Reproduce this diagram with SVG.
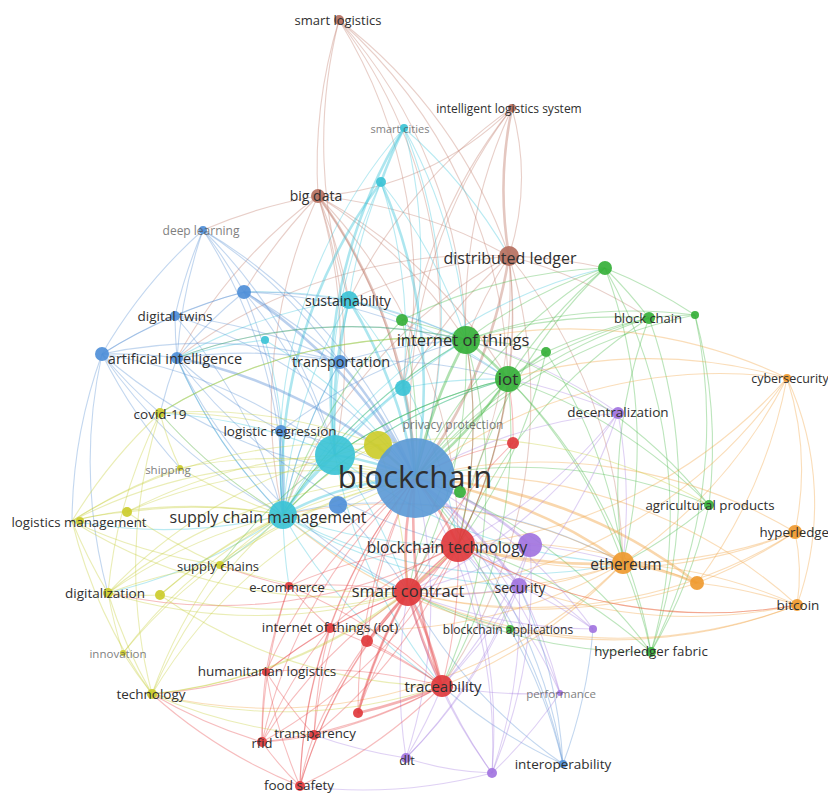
<svg xmlns="http://www.w3.org/2000/svg" width="828" height="793" viewBox="0 0 828 793">
<style>
.e path{fill:none;stroke-width:1.1;stroke-opacity:.36}
.e .w{stroke-width:2.6;stroke-opacity:.42}
.r{stroke:#e5474b}.g{stroke:#46b846}.b{stroke:#5a90d4}.c{stroke:#3cc4da}.y{stroke:#c6cc34}.p{stroke:#a57fe0}.o{stroke:#f0a03c}.n{stroke:#bf7a68}
.nd circle{fill-opacity:.92}
.fr{fill:#e0393d}.fg{fill:#36b03a}.fb{fill:#4f8fd8}.fbc{fill:#5c9ad6}.fc{fill:#3cc3d6}.fy{fill:#cccc2c}.fp{fill:#a274df}.fo{fill:#ef9a30}.fn{fill:#b57060}
text{font-family:"Open Sans","Noto Sans","Liberation Sans",sans-serif;fill:#2f2f2f;text-anchor:middle;dominant-baseline:central}
.f{fill:#555;opacity:.75}
</style>
<rect width="828" height="793" fill="#fff"/>
<g class="e" id="connectors">
<!-- brown -->
<path class="n" d="M339 20A500 500 0 0 0 318 196"/>
<path class="n" d="M339 20A500 500 0 0 1 415 478"/>
<path class="n" d="M339 20A500 500 0 0 1 509 256"/>
<path class="n" d="M339 20A500 500 0 0 1 466 340"/>
<path class="n" d="M339 20A500 500 0 0 0 349 300"/>
<path class="n" d="M339 20A500 500 0 0 1 403 388"/>
<path class="n" d="M339 20A500 500 0 0 1 508 379"/>
<path class="n" d="M512 108A260 260 0 0 1 509 256"/>
<path class="n w" d="M512 108A400 400 0 0 0 509 256"/>
<path class="n" d="M512 108A500 500 0 0 0 415 478"/>
<path class="n" d="M512 108A300 300 0 0 1 318 196"/>
<path class="n" d="M512 108A500 500 0 0 0 349 300"/>
<path class="n" d="M512 108A500 500 0 0 0 403 388"/>
<path class="n" d="M512 108A500 500 0 0 0 466 340"/>
<path class="n" d="M318 196A500 500 0 0 0 203 230"/>
<path class="n w" d="M318 196A500 500 0 0 1 415 478"/>
<path class="n" d="M318 196A500 500 0 0 1 349 300"/>
<path class="n" d="M318 196A500 500 0 0 1 340 362"/>
<path class="n" d="M318 196A500 500 0 0 0 177 358"/>
<path class="n" d="M318 196A500 500 0 0 1 466 340"/>
<path class="n" d="M318 196A500 500 0 0 0 283 515"/>
<path class="n" d="M318 196A500 500 0 0 1 335 455"/>
<path class="n" d="M318 196A500 500 0 0 1 509 256"/>
<path class="n" d="M318 196A500 500 0 0 1 508 379"/>
<path class="n" d="M318 196A500 500 0 0 1 403 388"/>
<path class="n" d="M318 196A500 500 0 0 0 244 292"/>
<path class="n" d="M318 196A500 500 0 0 1 458 545"/>
<path class="n w" d="M509 256A500 500 0 0 1 415 478"/>
<path class="n" d="M509 256A500 500 0 0 1 508 379"/>
<path class="n" d="M509 256A500 500 0 0 0 466 340"/>
<path class="n" d="M509 256A500 500 0 0 1 408 592"/>
<path class="n" d="M509 256A500 500 0 0 1 458 545"/>
<path class="n" d="M509 256A500 500 0 0 1 623 563"/>
<path class="n" d="M509 256A500 500 0 0 1 605 268"/>
<path class="n" d="M509 256A500 500 0 0 0 349 300"/>
<path class="n" d="M509 256A500 500 0 0 0 283 515"/>
<path class="n" d="M509 256A500 500 0 0 1 442 686"/>
<path class="n" d="M509 256A500 500 0 0 0 403 388"/>
<path class="n" d="M509 256A500 500 0 0 1 649 318"/>
<path class="n" d="M509 256A500 500 0 0 0 177 358"/>
<!-- cyan -->
<path class="c w" d="M404 128A500 500 0 0 0 381 182"/>
<path class="c" d="M404 128A500 500 0 0 1 415 478"/>
<path class="c w" d="M404 128A500 500 0 0 0 335 455"/>
<path class="c" d="M404 128A500 500 0 0 0 283 515"/>
<path class="c" d="M404 128A500 500 0 0 1 466 340"/>
<path class="c" d="M404 128A500 500 0 0 1 509 256"/>
<path class="c" d="M404 128A500 500 0 0 1 403 388"/>
<path class="c w" d="M381 182A500 500 0 0 1 415 478"/>
<path class="c w" d="M381 182A500 500 0 0 0 283 515"/>
<path class="c" d="M381 182A500 500 0 0 0 335 455"/>
<path class="c" d="M381 182A500 500 0 0 0 349 300"/>
<path class="c" d="M381 182A500 500 0 0 1 466 340"/>
<path class="c" d="M381 182A500 500 0 0 1 403 388"/>
<path class="c w" d="M349 300A500 500 0 0 1 415 478"/>
<path class="c" d="M349 300A500 500 0 0 0 283 515"/>
<path class="c w" d="M349 300A500 500 0 0 0 335 455"/>
<path class="c" d="M349 300A500 500 0 0 1 466 340"/>
<path class="c" d="M349 300A500 500 0 0 0 340 362"/>
<path class="c" d="M349 300A500 500 0 0 0 177 358"/>
<path class="c" d="M349 300A500 500 0 0 0 244 292"/>
<path class="c" d="M349 300A500 500 0 0 1 508 379"/>
<path class="c" d="M349 300A500 500 0 0 1 458 545"/>
<path class="c w" d="M403 388A500 500 0 0 1 415 478"/>
<path class="c" d="M403 388A500 500 0 0 0 283 515"/>
<path class="c" d="M403 388A500 500 0 0 1 508 379"/>
<path class="c" d="M403 388A500 500 0 0 0 335 455"/>
<path class="c" d="M265 340A500 500 0 0 1 283 515"/>
<path class="c" d="M265 340A500 500 0 0 0 177 358"/>
<path class="c" d="M265 340A500 500 0 0 1 415 478"/>
<path class="c w" d="M335 455A300 300 0 0 1 415 478"/>
<path class="c w" d="M335 455A300 300 0 0 0 283 515"/>
<path class="c" d="M335 455A500 500 0 0 1 466 340"/>
<path class="c" d="M335 455A500 500 0 0 1 340 362"/>
<path class="c" d="M335 455A500 500 0 0 1 408 592"/>
<path class="c" d="M335 455A500 500 0 0 1 508 379"/>
<path class="c" d="M335 455A500 500 0 0 0 442 686"/>
<path class="c" d="M335 455A500 500 0 0 0 623 563"/>
<path class="c" d="M335 455A500 500 0 0 0 160 413"/>
<path class="c w" d="M283 515A300 300 0 0 1 415 478"/>
<path class="c" d="M283 515A500 500 0 0 1 281 431"/>
<path class="c" d="M283 515A500 500 0 0 1 177 358"/>
<path class="c" d="M283 515A500 500 0 0 1 340 362"/>
<path class="c" d="M283 515A500 500 0 0 0 458 545"/>
<path class="c" d="M283 515A500 500 0 0 0 408 592"/>
<path class="c" d="M283 515A500 500 0 0 1 466 340"/>
<path class="c" d="M283 515A500 500 0 0 1 160 413"/>
<path class="c" d="M283 515A500 500 0 0 1 108 593"/>
<path class="c" d="M283 515A500 500 0 0 1 220 565"/>
<path class="c" d="M283 515A500 500 0 0 0 289 586"/>
<path class="c" d="M283 515A500 500 0 0 1 508 379"/>
<path class="c" d="M283 515A500 500 0 0 0 442 686"/>
<path class="c" d="M283 515A500 500 0 0 1 72 521"/>
<path class="c" d="M283 515A500 500 0 0 0 623 563"/>
<path class="c" d="M283 515A500 500 0 0 0 519 586"/>
<path class="c" d="M283 515A500 500 0 0 1 605 268"/>
<!-- blue -->
<path class="b" d="M203 230A500 500 0 0 1 244 292"/>
<path class="b" d="M203 230A500 500 0 0 0 177 358"/>
<path class="b" d="M203 230A500 500 0 0 0 175 316"/>
<path class="b" d="M203 230A500 500 0 0 1 415 478"/>
<path class="b" d="M203 230A500 500 0 0 0 102 354"/>
<path class="b" d="M203 230A500 500 0 0 1 283 515"/>
<path class="b" d="M203 230A500 500 0 0 1 335 455"/>
<path class="b" d="M203 230A500 500 0 0 1 340 362"/>
<path class="b w" d="M244 292A500 500 0 0 1 415 478"/>
<path class="b" d="M244 292A500 500 0 0 0 175 316"/>
<path class="b" d="M244 292A500 500 0 0 0 177 358"/>
<path class="b" d="M244 292A500 500 0 0 0 102 354"/>
<path class="b" d="M244 292A500 500 0 0 1 340 362"/>
<path class="b" d="M244 292A500 500 0 0 1 335 455"/>
<path class="b" d="M244 292A500 500 0 0 1 466 340"/>
<path class="b" d="M244 292A500 500 0 0 1 283 515"/>
<path class="b" d="M244 292A500 500 0 0 1 508 379"/>
<path class="b" d="M175 316A500 500 0 0 1 415 478"/>
<path class="b" d="M175 316A500 500 0 0 0 177 358"/>
<path class="b" d="M175 316A500 500 0 0 0 102 354"/>
<path class="b" d="M175 316A500 500 0 0 1 283 515"/>
<path class="b" d="M175 316A500 500 0 0 1 340 362"/>
<path class="b w" d="M177 358A500 500 0 0 1 415 478"/>
<path class="b" d="M177 358A500 500 0 0 0 102 354"/>
<path class="b" d="M177 358A500 500 0 0 0 283 515"/>
<path class="b" d="M177 358A500 500 0 0 0 160 413"/>
<path class="b" d="M177 358A500 500 0 0 0 281 431"/>
<path class="b" d="M177 358A500 500 0 0 1 340 362"/>
<path class="b" d="M177 358A500 500 0 0 1 466 340"/>
<path class="b" d="M177 358A500 500 0 0 0 408 592"/>
<path class="b" d="M177 358A500 500 0 0 0 458 545"/>
<path class="b" d="M102 354A500 500 0 0 0 415 478"/>
<path class="b" d="M102 354A500 500 0 0 0 72 521"/>
<path class="b" d="M102 354A500 500 0 0 0 283 515"/>
<path class="b" d="M102 354A500 500 0 0 0 160 413"/>
<path class="b" d="M102 354A500 500 0 0 1 340 362"/>
<path class="b" d="M102 354A500 500 0 0 0 180 468"/>
<path class="b" d="M102 354A500 500 0 0 1 335 455"/>
<path class="b" d="M102 354A500 500 0 0 0 108 593"/>
<path class="b w" d="M340 362A500 500 0 0 1 415 478"/>
<path class="b" d="M340 362A500 500 0 0 1 466 340"/>
<path class="b" d="M340 362A500 500 0 0 0 283 515"/>
<path class="b" d="M340 362A500 500 0 0 1 508 379"/>
<path class="b" d="M281 431A500 500 0 0 1 415 478"/>
<path class="b" d="M281 431A500 500 0 0 0 283 515"/>
<path class="b" d="M281 431A500 500 0 0 1 466 340"/>
<path class="b" d="M415 478A500 500 0 0 1 563 764"/>
<path class="b" d="M563 764A500 500 0 0 0 519 586"/>
<path class="b" d="M563 764A500 500 0 0 0 458 545"/>
<path class="b" d="M563 764A500 500 0 0 1 408 592"/>
<path class="b" d="M563 764A500 500 0 0 0 510 629"/>
<path class="b" d="M563 764A500 500 0 0 0 593 629"/>
<path class="b" d="M563 764A500 500 0 0 1 442 686"/>
<path class="b" d="M338 505A300 300 0 0 1 415 478"/>
<path class="b" d="M338 505A300 300 0 0 0 283 515"/>
<path class="b" d="M338 505A500 500 0 0 1 408 592"/>
<path class="b" d="M338 505A500 500 0 0 1 623 563"/>
<!-- green -->
<path class="g w" d="M466 340A500 500 0 0 0 415 478"/>
<path class="g w" d="M466 340A300 300 0 0 1 508 379"/>
<path class="g" d="M466 340A500 500 0 0 1 605 268"/>
<path class="g" d="M466 340A500 500 0 0 1 649 318"/>
<path class="g" d="M466 340A500 500 0 0 1 408 592"/>
<path class="g" d="M466 340A500 500 0 0 1 458 545"/>
<path class="g" d="M466 340A300 300 0 0 0 402 320"/>
<path class="g" d="M466 340A300 300 0 0 1 546 352"/>
<path class="g" d="M466 340A500 500 0 0 1 695 315"/>
<path class="g" d="M466 340A500 500 0 0 1 442 686"/>
<path class="g" d="M466 340A500 500 0 0 0 283 515"/>
<path class="g" d="M466 340A500 500 0 0 0 160 413"/>
<path class="g" d="M466 340A500 500 0 0 0 177 358"/>
<path class="g w" d="M508 379A500 500 0 0 1 415 478"/>
<path class="g" d="M508 379A500 500 0 0 1 605 268"/>
<path class="g" d="M508 379A500 500 0 0 1 649 318"/>
<path class="g" d="M508 379A500 500 0 0 0 408 592"/>
<path class="g" d="M508 379A500 500 0 0 1 458 545"/>
<path class="g" d="M508 379A300 300 0 0 0 546 352"/>
<path class="g" d="M508 379A500 500 0 0 0 283 515"/>
<path class="g" d="M508 379A500 500 0 0 1 709 505"/>
<path class="g" d="M508 379A500 500 0 0 1 442 686"/>
<path class="g" d="M508 379A500 500 0 0 1 623 563"/>
<path class="g" d="M508 379A500 500 0 0 0 335 455"/>
<path class="g" d="M508 379A500 500 0 0 1 651 652"/>
<path class="g" d="M508 379A500 500 0 0 0 220 565"/>
<path class="g" d="M605 268A500 500 0 0 1 649 318"/>
<path class="g" d="M605 268A500 500 0 0 1 695 315"/>
<path class="g" d="M605 268A500 500 0 0 0 415 478"/>
<path class="g" d="M605 268A500 500 0 0 1 623 563"/>
<path class="g" d="M605 268A500 500 0 0 0 458 545"/>
<path class="g" d="M605 268A500 500 0 0 0 402 320"/>
<path class="g" d="M649 318A300 300 0 0 1 695 315"/>
<path class="g" d="M649 318A500 500 0 0 0 415 478"/>
<path class="g" d="M649 318A500 500 0 0 1 651 652"/>
<path class="g" d="M649 318A500 500 0 0 0 623 563"/>
<path class="g" d="M649 318A500 500 0 0 0 458 545"/>
<path class="g" d="M649 318A500 500 0 0 0 546 352"/>
<path class="g" d="M695 315A500 500 0 0 1 709 505"/>
<path class="g" d="M695 315A500 500 0 0 0 415 478"/>
<path class="g" d="M695 315A500 500 0 0 1 651 652"/>
<path class="g" d="M709 505A500 500 0 0 0 415 478"/>
<path class="g" d="M709 505A500 500 0 0 1 623 563"/>
<path class="g" d="M709 505A500 500 0 0 1 651 652"/>
<path class="g" d="M709 505A500 500 0 0 0 466 340"/>
<path class="g" d="M651 652A500 500 0 0 0 623 563"/>
<path class="g" d="M651 652A500 500 0 0 0 415 478"/>
<path class="g" d="M651 652A500 500 0 0 0 458 545"/>
<path class="g" d="M651 652A500 500 0 0 1 408 592"/>
<path class="g" d="M651 652A500 500 0 0 0 605 268"/>
<path class="g" d="M510 629A500 500 0 0 0 415 478"/>
<path class="g" d="M510 629A500 500 0 0 1 408 592"/>
<path class="g" d="M402 320A500 500 0 0 1 415 478"/>
<path class="g" d="M402 320A500 500 0 0 0 283 515"/>
<path class="g" d="M460 492A300 300 0 0 0 415 478"/>
<path class="g" d="M546 352A500 500 0 0 0 415 478"/>
<path class="g" d="M546 352A500 500 0 0 1 623 563"/>
<path class="g" d="M546 352A500 500 0 0 1 458 545"/>
<!-- orange -->
<path class="o" d="M787 378A500 500 0 0 0 415 478"/>
<path class="o" d="M787 378A500 500 0 0 1 623 563"/>
<path class="o" d="M787 378A500 500 0 0 1 697 583"/>
<path class="o" d="M787 378A500 500 0 0 0 466 340"/>
<path class="o" d="M787 378A500 500 0 0 0 508 379"/>
<path class="o" d="M787 378A300 300 0 0 1 797 605"/>
<path class="o" d="M787 378A300 300 0 0 1 795 532"/>
<path class="o" d="M787 378A500 500 0 0 1 458 545"/>
<path class="o" d="M787 378A500 500 0 0 1 408 592"/>
<path class="o w" d="M623 563A500 500 0 0 0 415 478"/>
<path class="o w" d="M623 563A500 500 0 0 1 458 545"/>
<path class="o" d="M623 563A500 500 0 0 1 408 592"/>
<path class="o" d="M623 563A500 500 0 0 0 795 532"/>
<path class="o" d="M623 563A500 500 0 0 1 797 605"/>
<path class="o w" d="M623 563A300 300 0 0 1 697 583"/>
<path class="o" d="M623 563A500 500 0 0 1 442 686"/>
<path class="o" d="M623 563A500 500 0 0 0 283 515"/>
<path class="o" d="M623 563A500 500 0 0 1 519 586"/>
<path class="o" d="M623 563A500 500 0 0 1 330 628"/>
<path class="o" d="M623 563A500 500 0 0 1 152 694"/>
<path class="o w" d="M697 583A500 500 0 0 0 415 478"/>
<path class="o" d="M697 583A500 500 0 0 0 458 545"/>
<path class="o" d="M697 583A500 500 0 0 0 795 532"/>
<path class="o" d="M697 583A500 500 0 0 1 797 605"/>
<path class="o" d="M697 583A500 500 0 0 1 408 592"/>
<path class="o" d="M795 532A500 500 0 0 0 415 478"/>
<path class="o" d="M795 532A500 500 0 0 1 458 545"/>
<path class="o" d="M795 532A500 500 0 0 1 408 592"/>
<path class="o" d="M795 532A200 200 0 0 1 797 605"/>
<path class="o" d="M797 605A500 500 0 0 0 415 478"/>
<path class="o" d="M797 605A500 500 0 0 1 458 545"/>
<path class="o" d="M797 605A500 500 0 0 1 408 592"/>
<path class="o" d="M797 605A500 500 0 0 1 519 586"/>
<path class="o" d="M797 605A500 500 0 0 1 283 515"/>
<!-- purple -->
<path class="p" d="M618 413A500 500 0 0 0 415 478"/>
<path class="p" d="M618 413A500 500 0 0 0 508 379"/>
<path class="p" d="M618 413A500 500 0 0 1 458 545"/>
<path class="p" d="M618 413A500 500 0 0 1 408 592"/>
<path class="p" d="M618 413A500 500 0 0 1 623 563"/>
<path class="p" d="M618 413A500 500 0 0 0 466 340"/>
<path class="p" d="M618 413A500 500 0 0 1 519 586"/>
<path class="p w" d="M519 586A500 500 0 0 0 415 478"/>
<path class="p" d="M519 586A300 300 0 0 0 458 545"/>
<path class="p" d="M519 586A300 300 0 0 1 408 592"/>
<path class="p" d="M519 586A500 500 0 0 1 406 758"/>
<path class="p" d="M519 586A500 500 0 0 1 492 773"/>
<path class="p" d="M519 586A500 500 0 0 1 442 686"/>
<path class="p" d="M519 586A500 500 0 0 1 560 693"/>
<path class="p w" d="M530 545A300 300 0 0 0 415 478"/>
<path class="p" d="M530 545A500 500 0 0 1 408 592"/>
<path class="p" d="M530 545A500 500 0 0 1 406 758"/>
<path class="p" d="M530 545A500 500 0 0 1 492 773"/>
<path class="p" d="M530 545A500 500 0 0 1 442 686"/>
<path class="p" d="M530 545A500 500 0 0 1 623 563"/>
<path class="p" d="M560 693A500 500 0 0 0 415 478"/>
<path class="p" d="M560 693A500 500 0 0 0 458 545"/>
<path class="p" d="M560 693A500 500 0 0 1 492 773"/>
<path class="p" d="M560 693A500 500 0 0 1 442 686"/>
<path class="p" d="M593 629A500 500 0 0 0 415 478"/>
<path class="p" d="M593 629A500 500 0 0 0 519 586"/>
<path class="p" d="M593 629A500 500 0 0 0 458 545"/>
<path class="p" d="M593 629A500 500 0 0 1 408 592"/>
<path class="p" d="M406 758A500 500 0 0 0 415 478"/>
<path class="p" d="M406 758A500 500 0 0 0 442 686"/>
<path class="p" d="M406 758A500 500 0 0 1 408 592"/>
<path class="p" d="M406 758A300 300 0 0 0 492 773"/>
<path class="p" d="M406 758A500 500 0 0 1 314 735"/>
<path class="p" d="M492 773A500 500 0 0 0 415 478"/>
<path class="p" d="M492 773A500 500 0 0 1 442 686"/>
<path class="p" d="M492 773A500 500 0 0 0 458 545"/>
<path class="p" d="M492 773A500 500 0 0 1 408 592"/>
<path class="p" d="M492 773A500 500 0 0 1 300 786"/>
<!-- red -->
<path class="r w" d="M458 545A300 300 0 0 0 415 478"/>
<path class="r w" d="M458 545A300 300 0 0 1 408 592"/>
<path class="r" d="M458 545A500 500 0 0 1 442 686"/>
<path class="r" d="M458 545A500 500 0 0 0 466 340"/>
<path class="r" d="M458 545A500 500 0 0 0 508 379"/>
<path class="r" d="M458 545A500 500 0 0 1 262 742"/>
<path class="r" d="M458 545A500 500 0 0 1 314 735"/>
<path class="r w" d="M408 592A300 300 0 0 1 415 478"/>
<path class="r w" d="M408 592A500 500 0 0 0 442 686"/>
<path class="r w" d="M408 592A400 400 0 0 1 442 686"/>
<path class="r" d="M408 592A500 500 0 0 0 262 742"/>
<path class="r" d="M408 592A500 500 0 0 0 314 735"/>
<path class="r" d="M408 592A500 500 0 0 0 330 628"/>
<path class="r" d="M408 592A500 500 0 0 0 289 586"/>
<path class="r" d="M408 592A500 500 0 0 0 358 713"/>
<path class="r" d="M408 592A500 500 0 0 0 300 786"/>
<path class="r" d="M408 592A500 500 0 0 0 266 672"/>
<path class="r" d="M408 592A500 500 0 0 1 367 641"/>
<path class="r" d="M408 592A500 500 0 0 1 513 443"/>
<path class="r w" d="M442 686A500 500 0 0 1 415 478"/>
<path class="r" d="M442 686A500 500 0 0 1 314 735"/>
<path class="r" d="M442 686A500 500 0 0 1 262 742"/>
<path class="r" d="M442 686A500 500 0 0 1 300 786"/>
<path class="r w" d="M442 686A500 500 0 0 1 358 713"/>
<path class="r" d="M442 686A500 500 0 0 0 330 628"/>
<path class="r" d="M442 686A500 500 0 0 0 266 672"/>
<path class="r" d="M442 686A500 500 0 0 0 289 586"/>
<path class="r" d="M442 686A500 500 0 0 0 367 641"/>
<path class="r" d="M314 735A500 500 0 0 1 415 478"/>
<path class="r" d="M314 735A300 300 0 0 0 300 786"/>
<path class="r" d="M314 735A300 300 0 0 1 262 742"/>
<path class="r" d="M314 735A500 500 0 0 1 330 628"/>
<path class="r" d="M314 735A500 500 0 0 1 266 672"/>
<path class="r" d="M262 742A500 500 0 0 1 415 478"/>
<path class="r" d="M262 742A300 300 0 0 0 300 786"/>
<path class="r" d="M262 742A500 500 0 0 1 266 672"/>
<path class="r" d="M262 742A500 500 0 0 1 330 628"/>
<path class="r" d="M262 742A500 500 0 0 1 289 586"/>
<path class="r" d="M300 786A500 500 0 0 1 415 478"/>
<path class="r" d="M300 786A500 500 0 0 1 458 545"/>
<path class="r" d="M300 786A500 500 0 0 1 266 672"/>
<path class="r" d="M300 786A500 500 0 0 1 330 628"/>
<path class="r" d="M266 672A500 500 0 0 1 415 478"/>
<path class="r" d="M266 672A500 500 0 0 1 330 628"/>
<path class="r" d="M266 672A500 500 0 0 1 152 694"/>
<path class="r" d="M266 672A500 500 0 0 1 289 586"/>
<path class="r" d="M330 628A500 500 0 0 1 415 478"/>
<path class="r" d="M330 628A500 500 0 0 1 458 545"/>
<path class="r" d="M330 628A500 500 0 0 1 289 586"/>
<path class="r" d="M367 641A500 500 0 0 1 415 478"/>
<path class="r" d="M367 641A500 500 0 0 1 458 545"/>
<path class="r w" d="M358 713A500 500 0 0 1 408 592"/>
<path class="r" d="M358 713A500 500 0 0 1 415 478"/>
<path class="r" d="M358 713A500 500 0 0 1 458 545"/>
<path class="r" d="M289 586A500 500 0 0 1 415 478"/>
<path class="r" d="M289 586A500 500 0 0 1 458 545"/>
<path class="r" d="M289 586A500 500 0 0 1 220 565"/>
<path class="r" d="M513 443A300 300 0 0 0 415 478"/>
<path class="r" d="M513 443A300 300 0 0 0 508 379"/>
<path class="r" d="M152 694A500 500 0 0 0 300 786"/>
<path class="r" d="M152 694A500 500 0 0 0 262 742"/>
<path class="r" d="M458 545A500 500 0 0 1 108 593"/>
<path class="r" d="M458 545A500 500 0 0 0 797 605"/>
<!-- yellow -->
<path class="y" d="M72 521A500 500 0 0 1 415 478"/>
<path class="y" d="M72 521A500 500 0 0 1 283 515"/>
<path class="y" d="M72 521A300 300 0 0 1 127 512"/>
<path class="y" d="M72 521A500 500 0 0 0 108 593"/>
<path class="y" d="M72 521A500 500 0 0 0 152 694"/>
<path class="y" d="M72 521A500 500 0 0 1 160 413"/>
<path class="y" d="M72 521A500 500 0 0 0 220 565"/>
<path class="y" d="M72 521A500 500 0 0 0 408 592"/>
<path class="y" d="M127 512A500 500 0 0 1 415 478"/>
<path class="y" d="M127 512A500 500 0 0 1 283 515"/>
<path class="y" d="M127 512A500 500 0 0 0 220 565"/>
<path class="y" d="M127 512A500 500 0 0 1 335 455"/>
<path class="y" d="M160 413A500 500 0 0 1 415 478"/>
<path class="y" d="M160 413A500 500 0 0 0 283 515"/>
<path class="y" d="M160 413A300 300 0 0 0 180 468"/>
<path class="y" d="M160 413A500 500 0 0 0 152 694"/>
<path class="y" d="M160 413A500 500 0 0 0 108 593"/>
<path class="y" d="M160 413A500 500 0 0 1 466 340"/>
<path class="y" d="M180 468A500 500 0 0 1 415 478"/>
<path class="y" d="M180 468A500 500 0 0 0 72 521"/>
<path class="y" d="M180 468A500 500 0 0 0 283 515"/>
<path class="y" d="M220 565A500 500 0 0 1 415 478"/>
<path class="y" d="M220 565A500 500 0 0 1 283 515"/>
<path class="y" d="M220 565A500 500 0 0 0 108 593"/>
<path class="y" d="M220 565A500 500 0 0 0 152 694"/>
<path class="y" d="M220 565A500 500 0 0 0 408 592"/>
<path class="y" d="M108 593A500 500 0 0 1 415 478"/>
<path class="y" d="M108 593A300 300 0 0 0 160 595"/>
<path class="y" d="M108 593A500 500 0 0 0 152 694"/>
<path class="y" d="M108 593A500 500 0 0 0 123 653"/>
<path class="y" d="M108 593A500 500 0 0 1 283 515"/>
<path class="y" d="M108 593A500 500 0 0 0 408 592"/>
<path class="y" d="M160 595A500 500 0 0 1 415 478"/>
<path class="y" d="M160 595A500 500 0 0 1 283 515"/>
<path class="y" d="M160 595A500 500 0 0 0 408 592"/>
<path class="y" d="M160 595A500 500 0 0 0 442 686"/>
<path class="y" d="M123 653A500 500 0 0 0 152 694"/>
<path class="y" d="M123 653A500 500 0 0 1 415 478"/>
<path class="y" d="M123 653A500 500 0 0 1 283 515"/>
<path class="y" d="M152 694A500 500 0 0 1 415 478"/>
<path class="y" d="M152 694A500 500 0 0 0 408 592"/>
<path class="y" d="M152 694A500 500 0 0 0 458 545"/>
<path class="y" d="M152 694A500 500 0 0 0 314 735"/>
<path class="y" d="M152 694A500 500 0 0 1 283 515"/>
<path class="y" d="M152 694A500 500 0 0 0 442 686"/>
<path class="y w" d="M378 445A300 300 0 0 0 415 478"/>
<path class="y" d="M378 445A300 300 0 0 0 283 515"/>
<path class="y" d="M378 445A500 500 0 0 1 408 592"/>
<path class="y" d="M378 445A500 500 0 0 0 72 521"/>
<path class="y" d="M378 445A500 500 0 0 0 108 593"/>
<path class="y" d="M378 445A500 500 0 0 1 709 505"/>
<path class="y" d="M378 445A500 500 0 0 0 160 413"/>
</g>
<g class="nd">
<g id="n-smart-logistics"><circle class="fn" cx="339" cy="20" r="5"/><text x="338" y="20" font-size="13">smart logistics</text></g>
<g id="n-intelligent-logistics-system"><circle class="fn" cx="512" cy="108" r="4"/><text x="509" y="108" font-size="12">intelligent logistics system</text></g>
<g id="n-smart-cities"><circle class="fc" cx="404" cy="128" r="4"/><text class="f" x="400" y="128" font-size="11">smart cities</text></g>
<g id="n-c4"><circle class="fc" cx="381" cy="182" r="5"/></g>
<g id="n-big-data"><circle class="fn" cx="318" cy="196" r="7"/><text x="316" y="195" font-size="14">big data</text></g>
<g id="n-deep-learning"><circle class="fb" cx="203" cy="230" r="4"/><text class="f" x="201" y="230" font-size="12">deep learning</text></g>
<g id="n-distributed-ledger"><circle class="fn" cx="509" cy="256" r="10"/><text x="510" y="258" font-size="16">distributed ledger</text></g>
<g id="n-g4"><circle class="fg" cx="605" cy="268" r="7"/></g>
<g id="n-b2"><circle class="fb" cx="244" cy="292" r="7"/></g>
<g id="n-sustainability"><circle class="fc" cx="349" cy="300" r="9"/><text x="348" y="300" font-size="14">sustainability</text></g>
<g id="n-g3"><circle class="fg" cx="695" cy="315" r="4"/></g>
<g id="n-block-chain"><circle class="fg" cx="649" cy="318" r="6"/><text x="648" y="318" font-size="13">block chain</text></g>
<g id="n-g5"><circle class="fg" cx="402" cy="320" r="6"/></g>
<g id="n-digital-twins"><circle class="fb" cx="175" cy="316" r="5"/><text x="175" y="316" font-size="13.5">digital twins</text></g>
<g id="n-c3"><circle class="fc" cx="265" cy="340" r="4"/></g>
<g id="n-internet-of-things"><circle class="fg" cx="466" cy="340" r="14"/><text x="463" y="339" font-size="16.5">internet of things</text></g>
<g id="n-g2"><circle class="fg" cx="546" cy="352" r="5"/></g>
<g id="n-b3"><circle class="fb" cx="102" cy="354" r="7"/></g>
<g id="n-artificial-intelligence"><circle class="fb" cx="177" cy="358" r="6"/><text x="175" y="358" font-size="14.5">artificial intelligence</text></g>
<g id="n-transportation"><circle class="fb" cx="340" cy="362" r="7"/><text x="341" y="361" font-size="14.5">transportation</text></g>
<g id="n-iot"><circle class="fg" cx="508" cy="379" r="13"/><text x="508" y="378" font-size="17">iot</text></g>
<g id="n-cybersecurity"><circle class="fo" cx="787" cy="378" r="4"/><text x="790" y="378" font-size="12.5">cybersecurity</text></g>
<g id="n-c2"><circle class="fc" cx="403" cy="388" r="8"/></g>
<g id="n-covid-19"><circle class="fy" cx="160" cy="413" r="5"/><text x="160" y="414" font-size="13.5">covid-19</text></g>
<g id="n-decentralization"><circle class="fp" cx="618" cy="413" r="6"/><text x="618" y="412" font-size="13.5">decentralization</text></g>
<g id="n-privacy-protection"><text class="f" x="453" y="424" font-size="12">privacy protection</text></g>
<g id="n-logistic-regression"><circle class="fb" cx="281" cy="431" r="6"/><text x="280" y="431" font-size="13.5">logistic regression</text></g>
<g id="n-r1"><circle class="fr" cx="513" cy="443" r="6"/></g>
<g id="n-c1"><circle class="fc" cx="335" cy="455" r="20"/></g>
<g id="n-y1"><circle class="fy" cx="378" cy="445" r="14"/></g>
<g id="n-shipping"><circle class="fy" cx="180" cy="468" r="3"/><text class="f" x="168" y="469" font-size="11.5">shipping</text></g>
<g id="n-blockchain"><circle class="fbc" cx="415" cy="478" r="40"/><text x="415" y="478" font-size="31" style="dominant-baseline:auto" dy="10">blockchain</text></g>
<g id="n-g1"><circle class="fg" cx="460" cy="492" r="6"/></g>
<g id="n-b1"><circle class="fb" cx="338" cy="505" r="9"/></g>
<g id="n-agricultural-products"><circle class="fg" cx="709" cy="505" r="5"/><text x="710" y="505" font-size="13.3">agricultural products</text></g>
<g id="n-y2"><circle class="fy" cx="127" cy="512" r="5"/></g>
<g id="n-supply-chain-management"><circle class="fc" cx="283" cy="515" r="14"/><text x="268" y="517" font-size="16">supply chain management</text></g>
<g id="n-logistics-management"><circle class="fy" cx="80" cy="521" r="4"/><text x="79" y="522" font-size="13.3">logistics management</text></g>
<g id="n-hyperledger"><circle class="fo" cx="795" cy="532" r="7"/><text x="797" y="532" font-size="13.3">hyperledger</text></g>
<g id="n-p1"><circle class="fp" cx="530" cy="545" r="12"/></g>
<g id="n-blockchain-technology"><circle class="fr" cx="458" cy="545" r="17"/><text x="447" y="547" font-size="15.5">blockchain technology</text></g>
<g id="n-ethereum"><circle class="fo" cx="623" cy="563" r="11"/><text x="626" y="564" font-size="15.5">ethereum</text></g>
<g id="n-supply-chains"><circle class="fy" cx="220" cy="565" r="4"/><text x="218" y="566" font-size="13">supply chains</text></g>
<g id="n-o1"><circle class="fo" cx="697" cy="583" r="7"/></g>
<g id="n-e-commerce"><circle class="fr" cx="289" cy="586" r="4"/><text x="287" y="587" font-size="13">e-commerce</text></g>
<g id="n-security"><circle class="fp" cx="519" cy="586" r="8"/><text x="520" y="587" font-size="14">security</text></g>
<g id="n-smart-contract"><circle class="fr" cx="408" cy="592" r="14"/><text x="408" y="590" font-size="16.5">smart contract</text></g>
<g id="n-y3"><circle class="fy" cx="160" cy="595" r="5"/></g>
<g id="n-digitalization"><circle class="fy" cx="108" cy="593" r="5"/><text x="105" y="593" font-size="13.5">digitalization</text></g>
<g id="n-bitcoin"><circle class="fo" cx="797" cy="605" r="6"/><text x="798" y="605" font-size="13.5">bitcoin</text></g>
<g id="n-internet-of-things-iot"><circle class="fr" cx="330" cy="628" r="5"/><text x="330" y="627" font-size="13.5">internet of things (iot)</text></g>
<g id="n-blockchain-applications"><circle class="fg" cx="510" cy="629" r="4"/><text x="508" y="629" font-size="12">blockchain applications</text></g>
<g id="n-p3"><circle class="fp" cx="593" cy="629" r="4"/></g>
<g id="n-r2"><circle class="fr" cx="367" cy="641" r="6"/></g>
<g id="n-hyperledger-fabric"><circle class="fg" cx="651" cy="652" r="5"/><text x="651" y="651" font-size="13.3">hyperledger fabric</text></g>
<g id="n-innovation"><circle class="fy" cx="123" cy="653" r="3"/><text class="f" x="118" y="653" font-size="11.5">innovation</text></g>
<g id="n-humanitarian-logistics"><circle class="fr" cx="266" cy="672" r="4"/><text x="267" y="671" font-size="13.5">humanitarian logistics</text></g>
<g id="n-traceability"><circle class="fr" cx="442" cy="686" r="11"/><text x="443" y="686" font-size="15">traceability</text></g>
<g id="n-performance"><circle class="fp" cx="560" cy="693" r="3"/><text class="f" x="561" y="693" font-size="11.5">performance</text></g>
<g id="n-technology"><circle class="fy" cx="152" cy="694" r="5"/><text x="151" y="694" font-size="13.5">technology</text></g>
<g id="n-r3"><circle class="fr" cx="358" cy="713" r="5"/></g>
<g id="n-transparency"><circle class="fr" cx="314" cy="735" r="5"/><text x="315" y="733" font-size="13.3">transparency</text></g>
<g id="n-rfid"><circle class="fr" cx="262" cy="742" r="5"/><text x="262" y="743" font-size="13">rfid</text></g>
<g id="n-dlt"><circle class="fp" cx="406" cy="758" r="5"/><text x="407" y="760" font-size="12.5">dlt</text></g>
<g id="n-interoperability"><circle class="fb" cx="563" cy="764" r="4"/><text x="563" y="764" font-size="13.5">interoperability</text></g>
<g id="n-p2"><circle class="fp" cx="492" cy="773" r="5"/></g>
<g id="n-food-safety"><circle class="fr" cx="300" cy="786" r="5"/><text x="299" y="785" font-size="13.5">food safety</text></g>
</g>
</svg>
